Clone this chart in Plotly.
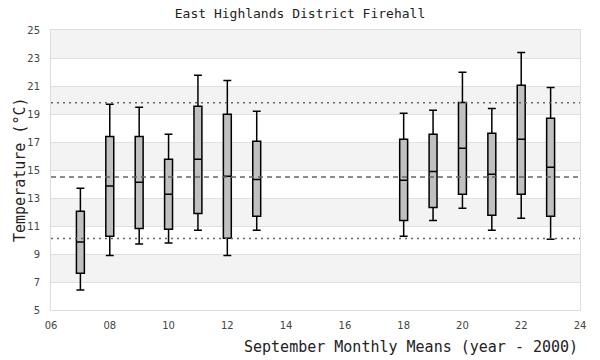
import plotly.graph_objects as go

# Data
years = [7, 8, 9, 10, 11, 12, 13, 18, 19, 20, 21, 22, 23]
whisker_low = [6.43, 8.9, 9.71, 9.79, 10.69, 8.9, 10.69, 10.26, 11.4, 12.26, 10.69, 11.55, 10.05]
q1 = [7.62, 10.26, 10.83, 10.76, 11.9, 10.12, 11.69, 11.4, 12.33, 13.26, 11.76, 13.26, 11.69]
median = [9.86, 13.86, 14.12, 13.26, 15.76, 14.55, 14.33, 14.26, 14.9, 16.55, 14.69, 17.19, 15.19]
q3 = [12.05, 17.4, 17.4, 15.76, 19.55, 18.98, 17.05, 17.19, 17.55, 19.83, 17.62, 21.05, 18.69]
whisker_high = [13.69, 19.69, 19.48, 17.55, 21.76, 21.4, 19.19, 19.05, 19.26, 21.98, 19.4, 23.4, 20.9]

overall_mean = 14.5
upper_ref = 19.8
lower_ref = 10.1

x_tickvals = [6, 8, 10, 12, 14, 16, 18, 20, 22, 24]
x_ticktext = ["06", "08", "10", "12", "14", "16", "18", "20", "22", "24"]
y_tickvals = [5, 7, 9, 11, 13, 15, 17, 19, 21, 23, 25]
band_ranges = [(7, 9), (11, 13), (15, 17), (19, 21), (23, 25)]

title_text = "East Highlands District Firehall"
x_title = "September Monthly Means (year - 2000)"
y_title = "Temperature (°C)"

mono = "DejaVu Sans Mono"
sans = "DejaVu Sans"

fig = go.Figure()
fig.add_trace(go.Box(
    x=years,
    lowerfence=whisker_low,
    q1=q1,
    median=median,
    q3=q3,
    upperfence=whisker_high,
    width=0.27,
    whiskerwidth=1,
    fillcolor="#c0c0c0",
    line=dict(color="black", width=1.5),
    boxpoints=False,
    showlegend=False,
    hoverinfo="skip",
))

shapes = []
for lo, hi in band_ranges:
    shapes.append(dict(type="rect", xref="paper", yref="y", x0=0, x1=1, y0=lo, y1=hi,
                       fillcolor="#f3f3f3", line=dict(width=0), layer="below"))
shapes.append(dict(type="line", xref="paper", yref="y", x0=0, x1=1, y0=overall_mean, y1=overall_mean,
                   line=dict(color="#666666", width=1.5, dash="5px,4px"), layer="above"))
for v in (upper_ref, lower_ref):
    shapes.append(dict(type="line", xref="paper", yref="y", x0=0, x1=1, y0=v, y1=v,
                       line=dict(color="#666666", width=1.5, dash="2px,4px"), layer="above"))

fig.update_layout(
    width=600, height=360,
    margin=dict(l=51, r=20, t=30, b=50),
    paper_bgcolor="white",
    plot_bgcolor="white",
    shapes=shapes,
    title=dict(text=title_text, x=0.5, xanchor="center", y=0.962, yanchor="middle",
               font=dict(family=mono, size=13, color="#222222")),
    xaxis=dict(range=[6, 24], tickvals=x_tickvals, ticktext=x_ticktext,
               showgrid=False, zeroline=False, showline=True, linecolor="#dddddd",
               linewidth=1, mirror=True, ticks="", ticklabelstandoff=6,
               tickfont=dict(family=sans, size=10, color="#444444")),
    yaxis=dict(range=[5, 25], tickvals=y_tickvals, showgrid=True, gridcolor="#e0e0e0",
               gridwidth=1, zeroline=False, showline=True, linecolor="#dddddd",
               linewidth=1, mirror=True, ticks="", ticklabelstandoff=8,
               tickfont=dict(family=sans, size=10, color="#444444")),
    annotations=[
        dict(text=x_title, xref="paper", yref="paper", x=1.0, y=-0.132,
             xanchor="right", yanchor="middle", showarrow=False,
             font=dict(family=mono, size=15, color="#222222")),
        dict(text=y_title, xref="paper", yref="paper", x=-0.0586, y=0.5,
             xanchor="center", yanchor="middle", textangle=-90, showarrow=False,
             font=dict(family=mono, size=15, color="#222222")),
    ],
)

fig.write_html("out.html", config={"displayModeBar": False},
               post_script="document.body.style.margin='0px';")
